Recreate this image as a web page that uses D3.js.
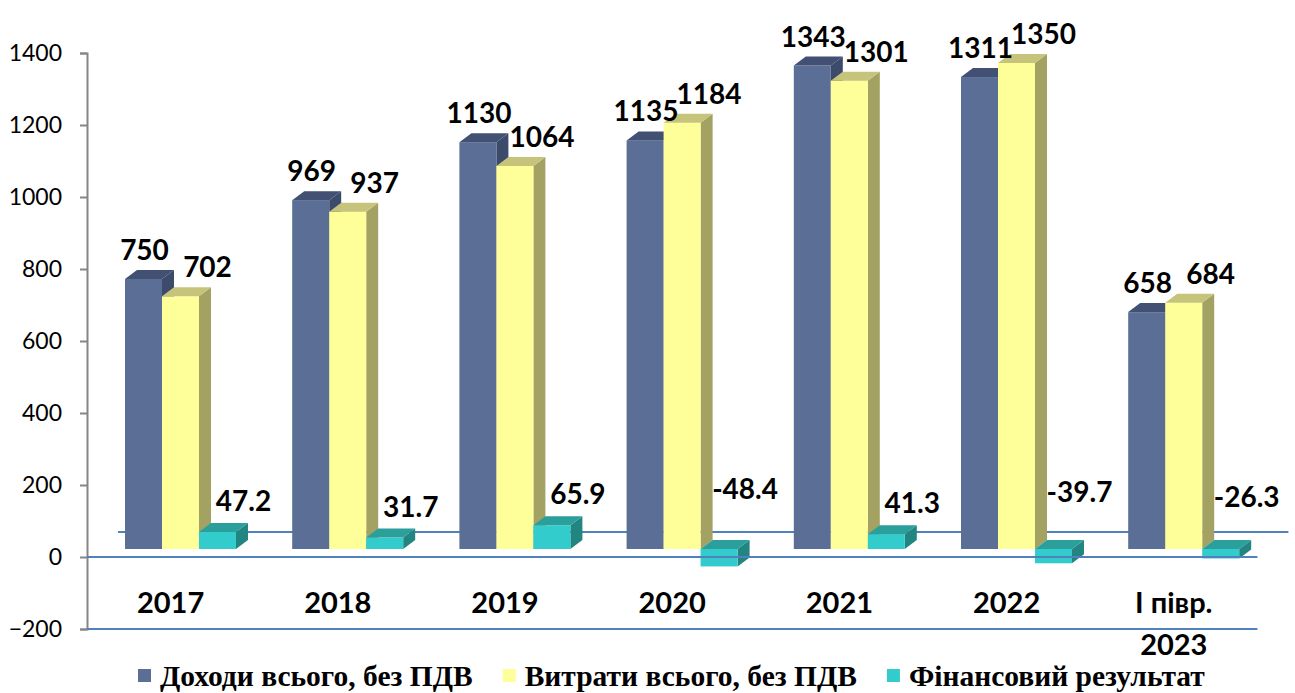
<!DOCTYPE html>
<html>
<head>
<meta charset="utf-8">
<script src="https://cdn.jsdelivr.net/npm/d3@7"></script>
<style>
  body { margin: 0; background: #fff; }
  svg { display: block; }
</style>
</head>
<body>
<div id="chart"></div>
<script>
// chart data
const categories = ['2017', '2018', '2019', '2020', '2021', '2022', 'I півр.|2023'];
const seriesNames = ['Доходи всього, без ПДВ', 'Витрати всього, без ПДВ', 'Фінансовий результат'];
const income = [750, 969, 1130, 1135, 1343, 1311, 658];
const expenses = [702, 937, 1064, 1184, 1301, 1350, 684];
const result = [47.2, 31.7, 65.9, -48.4, 41.3, -39.7, -26.3];
const yTicks = [-200, 0, 200, 400, 600, 800, 1000, 1200, 1400];

const W = 1295, H = 693;
// 3d look: front, top, side colours per series
const colors = [
  { front: '#5b6e96', top: '#415073', side: '#3c4a6b' },
  { front: '#ffff99', top: '#c6c47a', side: '#a3a262' },
  { front: '#33cccc', top: '#2a9f9c', side: '#238581' }
];
const depth = { dx: 12, dy: 9 };   // bar depth
const floorDepth = { dx: 31, dy: 25 };
const barLift = 8; // bars stand a bit behind the front floor edge

const svg = d3.select('#chart').append('svg')
  .attr('width', W).attr('height', H);

const y = d3.scaleLinear().domain([-200, 1400]).range([629, 53]);
const x = d3.scaleBand().domain(categories).range([87, 1257.4]);
const xs = d3.scaleBand().domain(d3.range(3)).range([38, 149]);

// back edge of the floor (behind the bars)
svg.append('line')
  .attr('x1', x.range()[0] + floorDepth.dx).attr('x2', x.range()[1] + floorDepth.dx)
  .attr('y1', y(0) - floorDepth.dy).attr('y2', y(0) - floorDepth.dy)
  .attr('stroke', '#4f81bd').attr('stroke-width', 2);

// Y axis
const yAxis = svg.append('g')
  .attr('transform', `translate(${x.range()[0]},0)`)
  .call(d3.axisLeft(y).tickValues(yTicks).tickSize(7).tickPadding(18).tickFormat(d3.format('d')));
yAxis.select('.domain').attr('stroke', '#868686').attr('stroke-width', 2);
yAxis.selectAll('line').attr('stroke', '#868686').attr('stroke-width', 2);
yAxis.selectAll('text')
  .attr('font-family', 'Lato, sans-serif').attr('font-size', 23).attr('fill', '#000');

// bars
const allSeries = [income, expenses, result];
const base = y(0) - barLift;

categories.forEach((cat, i) => {
  allSeries.forEach((vals, s) => {
    const v = vals[i];
    const x0 = x(cat) + xs(s);
    const w = xs.bandwidth();
    const yTop = v >= 0 ? y(v) - barLift : base;
    const yBot = v >= 0 ? base : y(v) - barLift;
    const c = colors[s];
    const g = svg.append('g');
    // side
    g.append('path')
      .attr('d', `M${x0 + w},${yTop} L${x0 + w + depth.dx},${yTop - depth.dy} L${x0 + w + depth.dx},${yBot - depth.dy} L${x0 + w},${yBot} Z`)
      .attr('fill', c.side);
    // front
    g.append('rect')
      .attr('x', x0).attr('y', yTop)
      .attr('width', w).attr('height', Math.max(0, yBot - yTop))
      .attr('fill', c.front);
    // top
    g.append('path')
      .attr('d', `M${x0},${yTop} L${x0 + w},${yTop} L${x0 + w + depth.dx},${yTop - depth.dy} L${x0 + depth.dx},${yTop - depth.dy} Z`)
      .attr('fill', c.top);
  });
});

// front floor edge and bottom line
[0, -200].forEach(v => {
  svg.append('line')
    .attr('x1', x.range()[0]).attr('x2', x.range()[1])
    .attr('y1', y(v)).attr('y2', y(v))
    .attr('stroke', '#4f81bd').attr('stroke-width', 2);
});

// value labels
const labelShift = [1, 27, 26];
categories.forEach((cat, i) => {
  allSeries.forEach((vals, s) => {
    const v = vals[i];
    const cx = x(cat) + xs(s) + xs.bandwidth() / 2 + labelShift[s];
    let by;
    if (s < 2) by = y(v) - barLift - depth.dy - 10;
    else if (v >= 0) by = y(v) - barLift - depth.dy - 12;
    else by = base - (y(v) - y(0)) - 33;
    svg.append('text')
      .attr('x', cx).attr('y', by)
      .attr('text-anchor', 'middle')
      .attr('font-family', 'Lato, sans-serif').attr('font-weight', 'bold')
      .attr('font-size', 28).attr('fill', '#000')
      .text(v);
  });
});

// category labels
categories.forEach(cat => {
  const lines = cat.split('|');
  lines.forEach((ln, k) => {
    svg.append('text')
      .attr('x', x(cat) + x.bandwidth() / 2).attr('y', 613 + k * 42)
      .attr('text-anchor', 'middle')
      .attr('font-family', 'Lato, sans-serif').attr('font-weight', 'bold')
      .attr('font-size', 29).attr('fill', '#000')
      .text(ln);
  });
});

// legend
const legend = svg.append('g');
let lx = 138;
seriesNames.forEach((name, s) => {
  legend.append('rect')
    .attr('x', lx).attr('y', 669).attr('width', 13).attr('height', 13)
    .attr('fill', colors[s].front);
  const t = legend.append('text')
    .attr('x', lx + 22).attr('y', 686)
    .attr('font-family', '"Liberation Serif", "Times New Roman", serif').attr('font-weight', 'bold')
    .attr('font-size', 29.5).attr('fill', '#000')
    .text(name);
  lx += 22 + t.node().getComputedTextLength() + 30;
});
</script>
</body>
</html>
